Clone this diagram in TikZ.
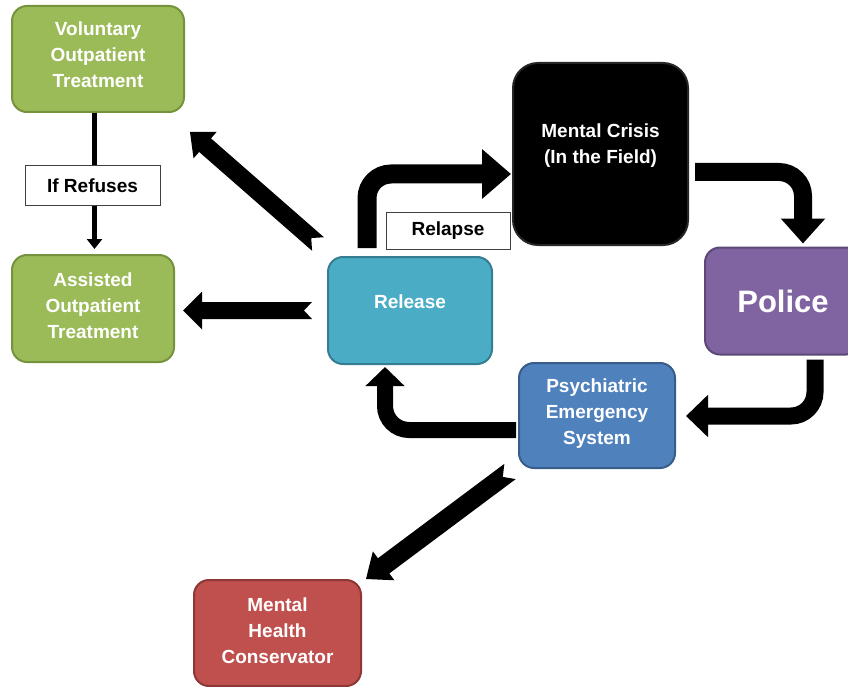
\documentclass[tikz,border=0pt]{standalone}
\usepackage{fontspec}
\setmainfont{Liberation Sans}
\usetikzlibrary{calc,arrows.meta}
\definecolor{gfill}{HTML}{9BBB59}\definecolor{gdraw}{HTML}{76923C}
\definecolor{tfill}{HTML}{4BACC6}\definecolor{tdraw}{HTML}{357D91}
\definecolor{pfill}{HTML}{8064A2}\definecolor{pdraw}{HTML}{5C4776}
\definecolor{bfill}{HTML}{4F81BD}\definecolor{bdraw}{HTML}{385D8A}
\definecolor{rfill}{HTML}{C0504D}\definecolor{rdraw}{HTML}{8C3836}
\newcommand\boxfont{\fontsize{19}{26}\selectfont\bfseries}
% notched block arrow: tail, tip, half shaft, half head, head length, notch depth
\newcommand\notcharrow[6]{%
  \path ($(#2)!#5!(#1)$) coordinate (nab);
  \fill[black] ($(#1)!#3!90:(#2)$) -- ($(nab)!#3!90:(#2)$) -- ($(nab)!#4!90:(#2)$)
    -- (#2) -- ($(nab)!#4!-90:(#2)$) -- ($(nab)!#3!-90:(#2)$) -- ($(#1)!#3!-90:(#2)$)
    -- ($(#1)!#6!(#2)$) -- cycle;}
\tikzset{
  box/.style={rectangle, rounded corners=15pt, line width=2pt, text=white,
    font=\boxfont, align=center, inner sep=0pt},
  boxtext/.style 2 args={label={[text=white, font=\boxfont, align=center, yshift=#1]center:#2}},
  lbl/.style={rectangle, draw=black!75, line width=1pt, fill=white,
    font=\boxfont, inner sep=0pt},
  elbow/.style={draw=black, rounded corners=24pt},
}
\begin{document}
\begin{tikzpicture}[x=1pt, y=-1pt]
\useasboundingbox (0,0) rectangle (848,687);
% nodes
\node[box, fill=gfill, draw=gdraw, minimum width=172pt, minimum height=106pt,
  boxtext={4pt}{Voluntary\\Outpatient\\Treatment}] (vol) at (98,59) {};
\node[box, fill=gfill, draw=gdraw, minimum width=162pt, minimum height=107pt,
  boxtext={3pt}{Assisted\\Outpatient\\Treatment}] (ass) at (93,308.5) {};
\node[box, fill=tfill, draw=tdraw, minimum width=164pt, minimum height=107pt,
  boxtext={9pt}{Release}] (release) at (410,310.5) {};
\node[box, fill=black, draw=black!85, rounded corners=25pt, minimum width=175pt, minimum height=182pt,
  boxtext={8pt}{Mental Crisis\\(In the Field)}] (crisis) at (600.5,154) {};
\node[box, fill=pfill, draw=pdraw, minimum width=156pt, minimum height=107pt,
  font=\fontsize{31}{36}\selectfont\bfseries] (police) at (783,301) {Police};
\node[box, fill=bfill, draw=bdraw, minimum width=156pt, minimum height=105pt,
  boxtext={2pt}{Psychiatric\\Emergency\\System}] (psych) at (597,415.5) {};
\node[box, fill=rfill, draw=rdraw, minimum width=167pt, minimum height=106pt,
  boxtext={2pt}{Mental\\Health\\Conservator}] (cons) at (277.5,633) {};
% thin arrow with label
\draw[line width=5pt, -{Triangle[length=10pt,width=15pt]}]
  ($(vol.south)+(-3.5,0)$) -- ($(ass.north)+(1.5,-5)$);
\node[lbl, minimum width=135pt, minimum height=39pt] (refuses) at (92.5,185.5) {If Refuses};
% elbow arrows
\coordinate (a1s) at ($(release.north)+(-43,-8)$);
\coordinate (a1e) at ($(crisis.west)+(-1,20)$);
\draw[elbow, line width=19pt, -{Triangle[length=29pt,width=48pt]}] (a1s) |- (a1e);
\node[lbl, minimum width=124pt, minimum height=37pt] (relapse) at (448,230.5) {Relapse};
\coordinate (a4s) at ($(crisis.east)+(6,18)$);
\coordinate (a4e) at ($(police.north)+(20,-3)$);
\draw[elbow, line width=18pt, -{Triangle[length=25pt,width=43pt]}] (a4s) -| (a4e);
\coordinate (a5s) at ($(police.south)+(32,4)$);
\coordinate (a5e) at ($(psych.east)+(10,0.5)$);
\draw[elbow, line width=17pt, -{Triangle[length=22pt,width=41pt]}] (a5s) |- (a5e);
\coordinate (a6s) at ($(psych.west)+(-2,14.5)$);
\coordinate (a6e) at ($(release.south)+(-25,2)$);
\draw[elbow, line width=16pt, -{Triangle[length=19pt,width=38pt]}] (a6s) -| (a6e);
% straight notched arrows
\coordinate (a2s) at ($(release.north west)+(-9,-12)$);
\coordinate (a2e) at ($(vol.south east)+(5,19)$);
\notcharrow{a2s}{a2e}{9pt}{17.5pt}{20pt}{9pt}
\coordinate (a3s) at ($(release.west)+(-15,0)$);
\coordinate (a3e) at ($(ass.east)+(8,2)$);
\notcharrow{a3s}{a3e}{8.5pt}{19pt}{19pt}{8pt}
\coordinate (a7s) at ($(psych.south west)+(-8,2.5)$);
\coordinate (a7e) at ($(cons.north east)+(4,0)$);
\notcharrow{a7s}{a7e}{9.5pt}{18pt}{22pt}{9pt}
\end{tikzpicture}
\end{document}
